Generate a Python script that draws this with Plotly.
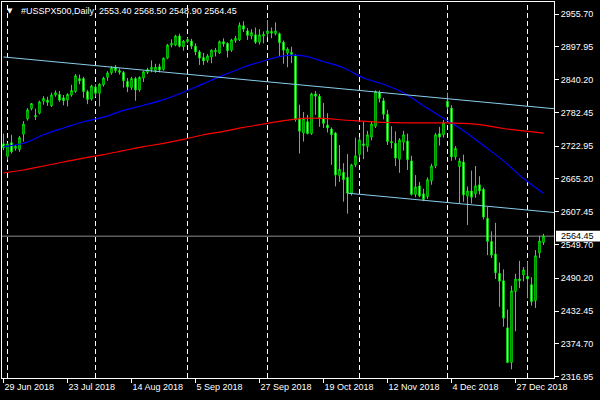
import pandas as pd
import plotly.graph_objects as go

# ---------------- data ----------------
symbol = "#USSPX500,Daily"
holidays = ["2018-12-25", "2019-01-01"]
dates = [d for d in pd.bdate_range("2018-06-29", "2019-01-08")
         if d.strftime("%Y-%m-%d") not in holidays]

opens = [2727, 2705, 2729, 2719, 2717, 2744, 2771, 2789, 2777, 2781,
         2802, 2804, 2794, 2813, 2814, 2808, 2804, 2813, 2819, 2842,
         2842, 2819, 2806, 2827, 2816, 2831, 2844, 2852, 2862, 2856,
         2853, 2837, 2826, 2842, 2822, 2843, 2853, 2858, 2856, 2863,
         2858, 2878, 2901, 2901, 2917, 2898, 2907, 2908, 2899, 2889,
         2879, 2874, 2880, 2889, 2887, 2907, 2904, 2892, 2909, 2910,
         2935, 2926, 2917, 2919, 2906, 2917, 2921, 2925, 2921, 2921,
         2906, 2887, 2888, 2882, 2772, 2746, 2766, 2745, 2815, 2811,
         2772, 2760, 2753, 2746, 2671, 2677, 2668, 2640, 2690, 2708,
         2727, 2722, 2739, 2758, 2817, 2803, 2779, 2731, 2728, 2700,
         2730, 2732, 2697, 2638, 2653, 2639, 2634, 2662, 2688, 2745,
         2743, 2802, 2790, 2704, 2687, 2695, 2635, 2644, 2639, 2655,
         2647, 2596, 2555, 2533, 2499, 2486, 2403, 2342, 2467, 2489,
         2496, 2494, 2479, 2451, 2535, 2553.40]
highs = [2745, 2729, 2743, 2725, 2741, 2767, 2790, 2799, 2789, 2803,
         2811, 2810, 2817, 2821, 2820, 2813, 2816, 2831, 2850, 2849,
         2845, 2822, 2831, 2832, 2834, 2845, 2855, 2864, 2866, 2860,
         2855, 2843, 2845, 2845, 2846, 2856, 2861, 2874, 2868, 2868,
         2879, 2903, 2911, 2919, 2921, 2910, 2914, 2912, 2904, 2892,
         2887, 2885, 2893, 2896, 2909, 2913, 2906, 2912, 2917, 2941,
         2943, 2931, 2929, 2932, 2929, 2925, 2945, 2932, 2941, 2923,
         2909, 2897, 2898, 2885, 2796, 2783, 2778, 2817, 2820, 2815,
         2799, 2781, 2756, 2748, 2725, 2693, 2709, 2692, 2738, 2739,
         2766, 2750, 2767, 2821, 2821, 2808, 2787, 2758, 2749, 2737,
         2750, 2745, 2706, 2672, 2660, 2648, 2668, 2692, 2746, 2757,
         2769, 2817, 2795, 2723, 2702, 2708, 2652, 2680, 2688, 2670,
         2650, 2616, 2573, 2588, 2518, 2506, 2435, 2477, 2498, 2521,
         2510, 2520, 2492, 2540, 2565, 2568.50]
lows = [2716, 2699, 2710, 2715, 2713, 2731, 2768, 2786, 2769, 2779,
        2796, 2794, 2792, 2810, 2801, 2795, 2793, 2810, 2817, 2832,
        2808, 2797, 2803, 2810, 2793, 2828, 2838, 2849, 2852, 2849,
        2826, 2818, 2822, 2803, 2819, 2836, 2850, 2853, 2852, 2853,
        2856, 2876, 2897, 2899, 2897, 2891, 2904, 2894, 2883, 2866,
        2866, 2870, 2869, 2881, 2885, 2898, 2879, 2889, 2905, 2908,
        2924, 2910, 2911, 2903, 2902, 2904, 2915, 2913, 2918, 2882,
        2868, 2862, 2869, 2766, 2710, 2731, 2744, 2743, 2778, 2757,
        2755, 2747, 2690, 2652, 2660, 2625, 2604, 2636, 2686, 2703,
        2700, 2713, 2733, 2755, 2800, 2770, 2725, 2719, 2688, 2676,
        2715, 2681, 2636, 2633, 2633, 2626, 2630, 2655, 2684, 2724,
        2738, 2787, 2697, 2699, 2622, 2625, 2584, 2622, 2632, 2638,
        2594, 2531, 2526, 2489, 2440, 2405, 2341, 2330, 2397, 2473,
        2485, 2455, 2442, 2438, 2526, 2548.90]
closes = [2720, 2727, 2713, 2723, 2738, 2762, 2787, 2798, 2775, 2801,
          2807, 2800, 2813, 2817, 2804, 2803, 2814, 2821, 2847, 2838,
          2819, 2805, 2829, 2816, 2832, 2843, 2852, 2861, 2856, 2853,
          2838, 2827, 2842, 2822, 2844, 2854, 2858, 2862, 2862, 2857,
          2878, 2901, 2904, 2917, 2899, 2908, 2911, 2899, 2889, 2878,
          2873, 2882, 2892, 2892, 2907, 2903, 2891, 2910, 2913, 2936,
          2929, 2918, 2923, 2906, 2919, 2920, 2926, 2922, 2926, 2905,
          2892, 2894, 2884, 2770, 2749, 2772, 2745, 2815, 2811, 2772,
          2763, 2755, 2743, 2672, 2682, 2664, 2640, 2690, 2706, 2734,
          2724, 2743, 2762, 2819, 2807, 2779, 2731, 2729, 2702, 2734,
          2743, 2699, 2638, 2651, 2635, 2629, 2664, 2688, 2743, 2739,
          2764, 2792, 2704, 2719, 2697, 2637, 2644, 2633, 2653, 2644,
          2598, 2555, 2531, 2500, 2485, 2420, 2342, 2468, 2489, 2486,
          2505, 2489, 2449, 2530, 2556, 2564.45]

# moving averages read every 5 bars
ma_step = 5
ma_blue = [2722, 2728, 2743, 2755, 2766, 2774, 2786, 2795, 2805, 2818,
           2833, 2848, 2862, 2873, 2882, 2882, 2872, 2861, 2843, 2832,
           2817, 2794, 2772, 2750, 2724, 2697, 2666, 2640]
ma_red = [2676, 2681, 2688, 2695, 2702, 2708, 2715, 2722, 2728, 2735,
          2743, 2749, 2756, 2762, 2768, 2772, 2772, 2769, 2767, 2765,
          2764, 2764, 2764, 2763, 2760, 2754, 2750, 2746]

# channel trend lines: (bar index, price) anchors
channel_upper = [(0, 2880.0), (135, 2790.6)]
channel_lower = [(86, 2640.2), (135, 2607.8)]

y_tick_values = [2955.70, 2897.95, 2840.20, 2782.45, 2722.95, 2665.20,
                 2607.45, 2549.70, 2490.20, 2432.45, 2374.70, 2316.95]
x_tick_labels = ["29 Jun 2018", "23 Jul 2018", "14 Aug 2018", "5 Sep 2018",
                 "27 Sep 2018", "19 Oct 2018", "12 Nov 2018", "4 Dec 2018",
                 "27 Dec 2018"]

# ---------------- figure ----------------
idx = list(range(len(dates)))
label_of = {f"{d.day} {d.strftime('%b %Y')}": i for i, d in enumerate(dates)}
x_tick_vals = [label_of[t] for t in x_tick_labels]
month_starts = [i for i in range(1, len(dates)) if dates[i].month != dates[i - 1].month]

X0, X1 = -0.375, 137.625
Y0, Y1 = 2314.66, 2976.83

fig = go.Figure()
fig.add_trace(go.Candlestick(
    x=idx, open=opens, high=highs, low=lows, close=closes,
    increasing=dict(line=dict(color="#00ff00", width=1), fillcolor="#000000"),
    decreasing=dict(line=dict(color="#00ff00", width=1), fillcolor="#ffffff"),
    whiskerwidth=0, hoverinfo="skip", showlegend=False))

ma_x = idx[::ma_step]
fig.add_trace(go.Scatter(x=ma_x, y=ma_blue, mode="lines",
                         line=dict(color="#0000ff", width=1.2, shape="spline"),
                         hoverinfo="skip", showlegend=False))
fig.add_trace(go.Scatter(x=ma_x, y=ma_red, mode="lines",
                         line=dict(color="#ff0000", width=1.2, shape="spline"),
                         hoverinfo="skip", showlegend=False))

for (i0, p0), (i1, p1) in (channel_upper, channel_lower):
    slope = (p1 - p0) / (i1 - i0)
    fig.add_trace(go.Scatter(x=[i0, X1], y=[p0, p0 + slope * (X1 - i0)], mode="lines",
                             line=dict(color="#87ceeb", width=1),
                             hoverinfo="skip", showlegend=False))

shapes = []
for m in month_starts:
    shapes.append(dict(type="line", xref="x", yref="paper", x0=m, x1=m, y0=0, y1=1,
                       line=dict(color="#ffffff", width=1, dash="5px,3px"), layer="below"))
last = closes[-1]
shapes.append(dict(type="line", xref="paper", yref="y", x0=0, x1=1, y0=last, y1=last,
                   line=dict(color="#8c8c8c", width=1), layer="below"))
pw, ph = 552, 376
shapes.append(dict(type="rect", xref="paper", yref="y",
                   x0=(556 - 2) / pw, x1=(600 - 2) / pw, y0=last - 9.5, y1=last + 9.5,
                   fillcolor="#ffffff", line=dict(width=0)))

font = "Liberation Sans, Arial, sans-serif"
annotations = [
    dict(xref="paper", yref="paper", x=7.5 / pw, y=1 - 8.5 / ph, text="▼", showarrow=False,
         xanchor="center", yanchor="middle", font=dict(family="DejaVu Sans", size=7, color="#ffffff")),
    dict(xref="paper", yref="paper", x=17 / pw, y=1 - 8.5 / ph,
         text=f"{symbol}  {opens[-1]:.2f} {highs[-1]:.2f} {lows[-1]:.2f} {closes[-1]:.2f}",
         showarrow=False, xanchor="left", yanchor="middle",
         font=dict(family=font, size=9, color="#ffffff")),
    dict(xref="paper", yref="y", x=(559 - 2) / pw, y=last, text=f"{last:.2f}", showarrow=False,
         xanchor="left", yanchor="middle", font=dict(family=font, size=9, color="#000000")),
]

fig.update_layout(
    width=600, height=400, margin=dict(l=2, r=46, t=2, b=22),
    paper_bgcolor="#000000", plot_bgcolor="#000000",
    boxgap=0.5, shapes=shapes, annotations=annotations, showlegend=False,
    font=dict(family=font, size=9, color="#ffffff"),
    xaxis=dict(range=[X0, X1], rangeslider=dict(visible=False), showgrid=False, zeroline=False,
               showline=True, mirror=True, linecolor="#ffffff", linewidth=1,
               ticks="outside", ticklen=4, tickcolor="#ffffff", tickwidth=1,
               tickvals=x_tick_vals, ticktext=x_tick_labels,
               ticklabelposition="outside right",
               tickfont=dict(family=font, size=9, color="#ffffff")),
    yaxis=dict(range=[Y0, Y1], side="right", showgrid=False, zeroline=False,
               showline=True, mirror=True, linecolor="#ffffff", linewidth=1,
               ticks="outside", ticklen=4, tickcolor="#ffffff", tickwidth=1,
               tickvals=y_tick_values, ticktext=[f"{v:.2f}" for v in y_tick_values],
               tickfont=dict(family=font, size=9, color="#ffffff")),
)

fig.write_html("out.html", config={"displayModeBar": False},
               post_script="document.body.style.margin='0';document.body.style.background='#000';")
